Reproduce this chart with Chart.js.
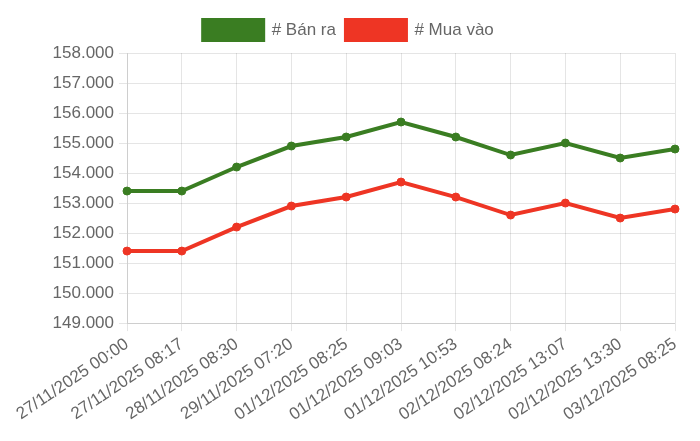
<!DOCTYPE html>
<html>
<head>
<meta charset="utf-8">
<script src="https://cdn.jsdelivr.net/npm/chart.js@4"></script>
<style>
  body { margin: 0; background: #fff; }
  #wrap { width: 700px; height: 441px; }
</style>
</head>
<body>
<div id="wrap"><canvas id="giaChart"></canvas></div>
<script>
const labels = ['27/11/2025 00:00', '27/11/2025 08:17', '28/11/2025 08:30', '29/11/2025 07:20',
    '01/12/2025 08:25', '01/12/2025 09:03', '01/12/2025 10:53', '02/12/2025 08:24',
    '02/12/2025 13:07', '02/12/2025 13:30', '03/12/2025 08:25'];
const banRa = [153400, 153400, 154200, 154900, 155200, 155700, 155200, 154600, 155000, 154500, 154800];
const muaVao = [151400, 151400, 152200, 152900, 153200, 153700, 153200, 152600, 153000, 152500, 152800];

function formatVnd(v) {
    return String(Math.round(v)).replace(/\B(?=(\d{3})+(?!\d))/g, '.');
}

// leave a little more room under the legend
const legendGap = {
    id: 'legendGap',
    beforeInit(chart) {
        const fit = chart.legend.fit;
        chart.legend.fit = function () {
            fit.bind(chart.legend)();
            this.height += 3;
        };
    }
};

document.addEventListener('DOMContentLoaded', function () {
    const ctx = document.getElementById('giaChart').getContext('2d');
    Chart.defaults.font.family = '"Liberation Sans", Arial, sans-serif';
    Chart.defaults.font.size = 17;
    Chart.defaults.color = '#666';

    new Chart(ctx, {
        type: 'line',
        data: {
            labels: labels,
            datasets: [{
                label: '# Bán ra',
                data: banRa,
                borderColor: '#3a7d22',
                backgroundColor: '#3a7d22',
                borderWidth: 4,
                pointRadius: 4,
                pointBorderWidth: 1,
                tension: 0
            }, {
                label: '# Mua vào',
                data: muaVao,
                borderColor: '#ee3524',
                backgroundColor: '#ee3524',
                borderWidth: 4,
                pointRadius: 4,
                pointBorderWidth: 1,
                tension: 0
            }]
        },
        options: {
            responsive: true,
            maintainAspectRatio: false,
            animation: false,
            layout: {
                padding: { top: 10, right: 25, bottom: 13, left: 22 }
            },
            plugins: {
                legend: {
                    labels: { boxWidth: 60, boxHeight: 20 }
                }
            },
            scales: {
                x: {
                    ticks: { minRotation: 34, maxRotation: 34 }
                },
                y: {
                    min: 149000,
                    max: 158000,
                    afterFit: function (scale) { scale.width = 105; },
                    ticks: {
                        stepSize: 1000,
                        padding: 5,
                        callback: function (v) { return formatVnd(v); }
                    }
                }
            }
        },
        plugins: [legendGap]
    });
});
</script>
</body>
</html>
